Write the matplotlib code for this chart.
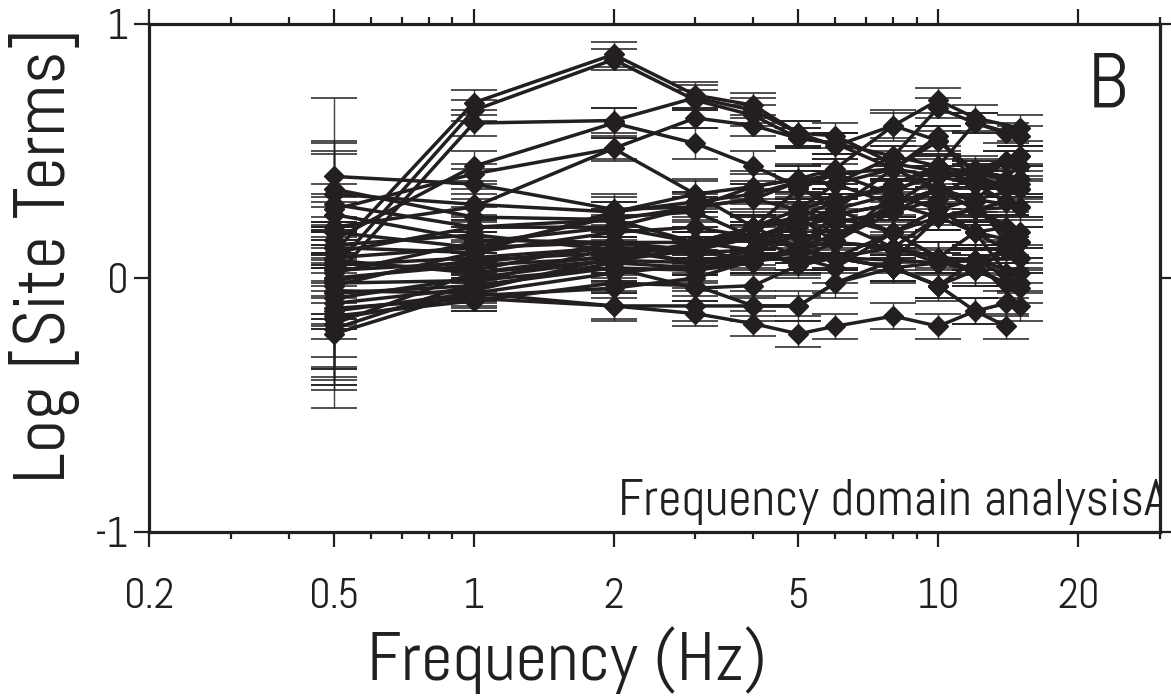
import matplotlib
matplotlib.use("Agg")
import matplotlib.pyplot as plt
import numpy as np
from matplotlib.ticker import FixedLocator, NullFormatter

# frequencies (Hz) shared by all sites; last point is at 14 or 15 Hz
FREQ = [0.5, 1, 2, 3, 4, 5, 6, 8, 10, 12]
LAST_FREQ = [15, 14, 15, 14, 15, 14, 15, 14, 15, 14, 15, 15, 14, 15, 14, 15, 15, 15,
             14, 15, 14, 14, 15, 15, 14, 14, 15, 15, 14, 15, 14, 15, 15, 14, 15, 14]

# log site terms, one row per site: 0.5, 1, 2, 3, 4, 5, 6, 8, 10, 12, last
SITE_TERMS = [
    [0.10, 0.69, 0.88, 0.72, 0.68, 0.57, 0.56, 0.45, 0.42, 0.38, 0.37],
    [0.04, 0.66, 0.86, 0.70, 0.64, 0.55, 0.53, 0.43, 0.40, 0.41, 0.39],
    [0.00, 0.61, 0.62, 0.71, 0.66, 0.57, 0.52, 0.60, 0.70, 0.63, 0.59],
    [0.15, 0.44, 0.61, 0.53, 0.44, 0.36, 0.27, 0.18, 0.08, 0.03, -0.02],
    [0.27, 0.41, 0.51, 0.63, 0.60, 0.55, 0.53, 0.48, 0.67, 0.61, 0.56],
    [0.20, 0.28, 0.51, 0.33, 0.20, 0.12, 0.08, 0.04, -0.03, 0.07, 0.11],
    [0.40, 0.37, 0.27, 0.28, 0.31, 0.38, 0.41, 0.33, 0.27, 0.18, 0.14],
    [0.35, 0.24, 0.23, 0.14, 0.16, 0.22, 0.27, 0.43, 0.54, 0.41, 0.46],
    [0.29, 0.20, 0.20, 0.28, 0.36, 0.39, 0.37, 0.29, 0.24, 0.27, 0.28],
    [0.25, 0.15, 0.14, 0.11, 0.07, 0.08, 0.14, 0.33, 0.44, 0.37, 0.30],
    [-0.22, -0.05, 0.08, 0.14, 0.20, 0.27, 0.31, 0.35, 0.40, 0.43, 0.48],
    [-0.20, -0.02, 0.12, 0.10, 0.11, 0.22, 0.25, 0.29, 0.35, 0.31, 0.44],
    [-0.18, 0.02, 0.07, 0.11, 0.16, 0.12, 0.14, 0.12, 0.24, 0.27, 0.20],
    [-0.15, -0.09, -0.02, -0.03, -0.11, -0.11, -0.02, 0.07, 0.06, 0.07, 0.08],
    [-0.12, -0.08, -0.11, -0.14, -0.18, -0.22, -0.19, -0.15, -0.19, -0.13, -0.19],
    [-0.05, -0.06, -0.11, -0.11, -0.11, -0.11, -0.02, 0.04, -0.03, 0.03, -0.04],
    [0.05, 0.08, 0.12, 0.06, 0.11, 0.05, 0.08, 0.12, 0.08, 0.07, 0.02],
    [0.00, 0.05, 0.08, 0.11, 0.16, 0.20, 0.24, 0.18, 0.27, 0.31, 0.35],
    [0.08, 0.12, 0.14, 0.14, 0.20, 0.24, 0.14, 0.12, 0.08, 0.18, 0.20],
    [0.12, 0.10, 0.26, 0.30, 0.33, 0.38, 0.37, 0.43, 0.35, 0.31, 0.28],
    [-0.08, 0.00, 0.07, 0.06, 0.07, 0.08, 0.08, 0.04, 0.06, 0.03, 0.11],
    [0.02, 0.14, 0.20, 0.14, 0.11, 0.27, 0.37, 0.48, 0.44, 0.61, 0.57],
    [-0.03, 0.10, 0.18, 0.20, 0.16, 0.12, 0.25, 0.29, 0.35, 0.27, 0.14],
    [0.13, 0.17, 0.11, 0.06, 0.09, 0.07, 0.08, 0.18, 0.24, 0.18, 0.08],
    [-0.13, -0.06, 0.02, 0.05, 0.11, 0.17, 0.14, 0.29, 0.40, 0.37, 0.46],
    [0.06, 0.03, 0.14, 0.10, 0.20, 0.22, 0.27, 0.33, 0.27, 0.18, 0.02],
    [-0.01, 0.07, 0.10, 0.12, 0.16, 0.08, 0.04, 0.18, 0.08, 0.07, -0.11],
    [0.10, 0.20, 0.23, 0.28, 0.31, 0.27, 0.22, 0.12, 0.06, 0.07, -0.02],
    [-0.06, -0.03, 0.04, -0.04, -0.03, 0.05, 0.08, 0.07, 0.24, 0.27, 0.30],
    [0.03, 0.06, 0.12, 0.11, 0.20, 0.35, 0.41, 0.43, 0.56, 0.37, 0.35],
    [-0.10, -0.04, 0.06, 0.04, 0.07, 0.12, 0.08, 0.04, -0.03, -0.13, -0.10],
    [0.18, 0.12, 0.24, 0.26, 0.16, 0.12, 0.17, 0.29, 0.35, 0.27, 0.18],
    [-0.16, -0.07, -0.04, 0.00, 0.07, 0.12, 0.22, 0.26, 0.31, 0.42, 0.48],
    [0.07, 0.02, 0.09, 0.13, 0.20, 0.24, 0.30, 0.37, 0.44, 0.41, 0.35],
    [0.33, 0.29, 0.26, 0.33, 0.36, 0.39, 0.43, 0.60, 0.54, 0.42, 0.39],
    [-0.02, -0.01, 0.04, 0.03, 0.06, 0.11, 0.15, 0.26, 0.35, 0.30, 0.14],
]

# one-sigma errors: at 0.5 Hz and at the other frequencies
ERR_LOW = [0.12, 0.20, 0.10, 0.18, 0.22, 0.08, 0.31, 0.15, 0.25, 0.12,
           0.29, 0.22, 0.26, 0.20, 0.27, 0.14, 0.10, 0.18, 0.24, 0.08,
           0.28, 0.16, 0.21, 0.09, 0.23, 0.13, 0.19, 0.11, 0.25, 0.17,
           0.30, 0.12, 0.26, 0.15, 0.20, 0.18]
ERR_HIGH = [0.05, 0.04, 0.05, 0.06, 0.04, 0.05, 0.06, 0.04, 0.05, 0.05,
            0.04, 0.06, 0.05, 0.04, 0.05, 0.06, 0.04, 0.05, 0.06, 0.04,
            0.05, 0.04, 0.06, 0.05, 0.04, 0.05, 0.06, 0.04, 0.05, 0.04,
            0.05, 0.06, 0.04, 0.05, 0.06, 0.05]

INK = "#231f20"
plt.rcParams["font.family"] = ["Abel", "Liberation Sans", "DejaVu Sans"]


def fit(text, target_px, renderer, axis="w"):
    # rescale a text so that its drawn width (or height) matches the reference
    ext = text.get_window_extent(renderer)
    size = ext.width if axis == "w" else ext.height
    text.set_fontsize(text.get_fontsize() * target_px / size)


fig = plt.figure(figsize=(11.71, 6.98), dpi=100)
ax = fig.add_axes([149 / 1171, 1 - 532 / 698, (1160 - 149) / 1171, (532 - 24) / 698])

for row, last, e_low, e_high in zip(SITE_TERMS, LAST_FREQ, ERR_LOW, ERR_HIGH):
    f = np.array(FREQ + [last], dtype=float)
    y = np.array(row)
    err = np.full(len(y), e_high)
    err[0] = e_low
    ax.errorbar(f, y, yerr=err, fmt="none", ecolor=INK, elinewidth=1.0,
                capsize=16.5, capthick=1.3, alpha=0.85, zorder=2)
    ax.plot(f, y, color=INK, lw=2.5, marker="D", ms=10.5, mfc=INK, mec=INK, zorder=3)

ax.set_xscale("log")
ax.set_xlim(0.2, 30)
ax.set_ylim(-1, 1)

major = [0.2, 0.5, 1, 2, 5, 10, 20]
minor = [0.3, 0.4, 0.6, 0.7, 0.8, 0.9, 3, 4, 6, 7, 8, 9, 30]
ax.xaxis.set_major_locator(FixedLocator(major))
ax.xaxis.set_minor_locator(FixedLocator(minor))
ax.xaxis.set_minor_formatter(NullFormatter())
ax.set_xticklabels(["0.2", "0.5", "1", "2", "5", "10", "20"])
ax.set_yticks([-1, 0, 1])
ax.set_yticklabels(["-1", "0", "1"])

renderer = fig.canvas.get_renderer()
probe = fig.text(0, 0, "0.5", fontsize=30)
fit(probe, 50, renderer)
tick_size = probe.get_fontsize()
probe.remove()

ax.tick_params(which="major", direction="out", length=10.8, width=1.6, color=INK,
               top=True, right=True, labelsize=tick_size, labelcolor=INK)
ax.tick_params(which="minor", direction="out", length=5, width=1.6, color=INK, top=True)
# x labels sit on their baseline below the spine
ax.tick_params(axis="x", which="major", pad=44)
ax.tick_params(axis="y", which="major", pad=4)
for lbl in ax.get_xticklabels():
    lbl.set_verticalalignment("baseline")
for s in ax.spines.values():
    s.set_linewidth(2.3)
    s.set_color(INK)

letter = ax.text(0.929, 0.835, "B", transform=ax.transAxes, fontsize=58, color=INK,
                 ha="left", va="baseline")
note = ax.text(1.008, 0.033, "Frequency domain analysisA", transform=ax.transAxes,
               fontsize=29, color=INK, ha="right", va="baseline", clip_on=True)
xlab = fig.text(567 / 1171, 1 - 680 / 698, "Frequency (Hz)", fontsize=44, color=INK,
                ha="center", va="baseline")
ylab = fig.text(45 / 1171, 1 - 255 / 698, "Log [Site Terms]", fontsize=44, color=INK,
                ha="center", va="center", rotation=90)

fit(letter, 40, renderer)
fit(note, 548, renderer)
fit(xlab, 400, renderer)
fit(ylab, 455, renderer, axis="h")

fig.savefig("out.png", dpi=100)
